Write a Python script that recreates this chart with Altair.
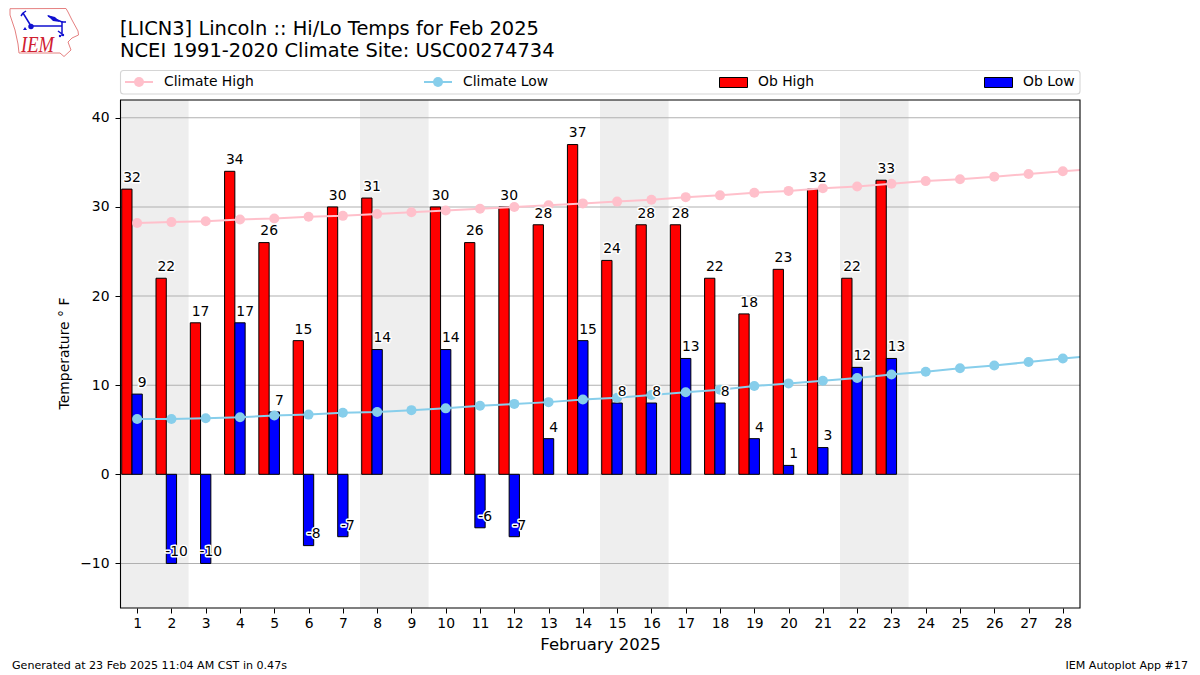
import urllib.parse
import altair as alt
import pandas as pd

days = list(range(1, 29))
ob_days = [d for d in days if d <= 23 and d != 9]
ob_high = [32, 22, 17, 34, 26, 15, 30, 31, 30, 26, 30, 28, 37, 24, 28, 28, 22, 18, 23, 32, 22, 33]
ob_low = [9, -10, -10, 17, 7, -8, -7, 14, 14, -6, -7, 4, 15, 8, 8, 13, 8, 4, 1, 3, 12, 13]
clim_days = days + [29]
clim_high = [28.2, 28.3, 28.4, 28.6, 28.7, 28.9, 29.0, 29.2, 29.4, 29.6, 29.8, 30.0, 30.2, 30.4,
             30.6, 30.8, 31.1, 31.3, 31.6, 31.8, 32.1, 32.3, 32.6, 32.9, 33.1, 33.4, 33.7, 34.0, 34.3]
clim_low = [6.2, 6.2, 6.3, 6.4, 6.6, 6.7, 6.9, 7.0, 7.2, 7.4, 7.7, 7.9, 8.1, 8.4,
            8.6, 8.9, 9.2, 9.5, 9.9, 10.2, 10.5, 10.8, 11.2, 11.5, 11.9, 12.2, 12.6, 13.0, 13.3]
span_start = [0.5, 7.5, 14.5, 21.5]
span_end = [2.5, 9.5, 16.5, 23.5]
grid_values = [-10, 0, 10, 20, 30, 40]

W, H = 960, 508
OX, OY = 120, 100
FONT = "DejaVu Sans"
x_scale = alt.Scale(domain=[0.5, 28.5], nice=False, zero=False)
y_scale = alt.Scale(domain=[-15, 42], nice=False, zero=False)
x_axis = alt.Axis(values=days, grid=False, domain=False, tickColor="black", tickSize=5, tickWidth=1,
                  labelFont=FONT, labelFontSize=13.9, labelColor="black", labelPadding=3,
                  labelOverlap=False, labelFlush=False, format="d",
                  titleFont=FONT, titleFontSize=16.5, titleFontWeight="normal", titleColor="black",
                  titlePadding=7)
y_axis = alt.Axis(values=grid_values, grid=False, domain=False, tickColor="black", tickSize=5, tickWidth=1,
                  labelFont=FONT, labelFontSize=13.9, labelColor="black", labelPadding=6,
                  titleFont=FONT, titleFontSize=13.9, titleFontWeight="normal", titleColor="black",
                  titleX=-56, titleY=253, titleAngle=-90, titleAlign="center", titleBaseline="middle")
X_TITLE = "February 2025"
Y_TITLE = "Temperature ° F"

def X(f):
    return alt.X(f, scale=x_scale, axis=x_axis, title=X_TITLE)
def Y(f):
    return alt.Y(f, scale=y_scale, axis=y_axis, title=Y_TITLE)

logo_svg = """<svg xmlns='http://www.w3.org/2000/svg' width='72' height='52' viewBox='8 8 72 52'>
<path d='M10 8.7 L66 8.5 L68 12 L72 20 L78 31 L78.5 35 L72 38 L68 42 L71 50 L64 56.5 L60 53 L19 53 L18 44 L15 30 L10 15 Z'
 fill='white' stroke='#e58080' stroke-width='1'/>
<g stroke='#1010d0' fill='none' stroke-width='1.5'>
<path d='M31 26 L62 26 M62 21 L62 36 M31 26 L23 13 M23 13 L21 16 M23 13 L26 11 M58 31 L62 34'/>
<path d='M48 16 L62 22 L66 22' />
</g>
<path d='M47 15 L55 17 L60 22 L53 21 Z' fill='#1010d0'/>
<circle cx='31' cy='26.5' r='2.7' fill='#1010d0'/>
<path d='M25 27 L27 30 L23 30 Z' fill='#1010d0'/>
<circle cx='60' cy='36' r='1.2' fill='#1010d0'/><circle cx='63' cy='35' r='1.2' fill='#1010d0'/>
<text x='21' y='52' font-family='Liberation Serif' font-style='italic' font-size='23' fill='#d02030' textLength='33' lengthAdjust='spacingAndGlyphs'>IEM</text>
</svg>"""
logo_url = "data:image/svg+xml," + urllib.parse.quote(logo_svg)

one = pd.DataFrame({"k": [0]})
bar_df = pd.DataFrame({"d": ob_days, "high": ob_high, "low": ob_low, "zero": 0})
bar_df["hx1"] = bar_df.d - 0.45
bar_df["hx2"] = bar_df.d - 0.15
bar_df["lx1"] = bar_df.d - 0.15
bar_df["lx2"] = bar_df.d + 0.15
bar_df["hy"] = bar_df.high + 0.8
bar_df["ly"] = bar_df.low + 0.8
bar_df["ht"] = bar_df.high.astype(str)
bar_df["lt"] = bar_df.low.astype(str)
clim_df = pd.DataFrame({"d": clim_days, "high": clim_high, "low": clim_low})
span_df = pd.DataFrame({"a": span_start, "b": span_end})
grid_df = pd.DataFrame({"v": grid_values})

spans = alt.Chart(span_df).mark_rect(color="#eeeeee").encode(
    x=X("a:Q"), x2="b:Q", y=alt.value(0), y2=alt.value(H))
grid = alt.Chart(grid_df).mark_rule(color="#b0b0b0", strokeWidth=1.1).encode(y=Y("v:Q"))

def bars(x1, x2, val, color):
    return alt.Chart(bar_df).mark_rect(color=color, stroke="black", strokeWidth=1, strokeJoin="miter").encode(
        x=X(f"{x1}:Q"), x2=f"{x2}:Q", y=Y(f"{val}:Q"), y2="zero:Q")
def clim(col, color):
    base = alt.Chart(clim_df).encode(x=X("d:Q"), y=Y(f"{col}:Q"))
    return [base.mark_line(color=color, strokeWidth=2, clip=True),
            base.mark_point(color=color, filled=True, opacity=1, size=100, clip=True)]
def labels(xf, yf, tf):
    common = dict(font=FONT, fontSize=13.9, align="center", baseline="alphabetic")
    enc = dict(x=X(f"{xf}:Q"), y=Y(f"{yf}:Q"), text=f"{tf}:N")
    halo = alt.Chart(bar_df).mark_text(fill="white", stroke="white", strokeWidth=3, strokeJoin="round", **common).encode(**enc)
    top = alt.Chart(bar_df).mark_text(fill="black", **common).encode(**enc)
    return [halo, top]
def note(text, px, py, size=13.9, align="left", baseline="middle"):
    return alt.Chart(pd.DataFrame({"t": [text]})).mark_text(
        font=FONT, fontSize=size, align=align, baseline=baseline, color="black"
    ).encode(x=alt.value(px - OX), y=alt.value(py - OY), text="t:N")
def frame_rect(x1, x2, y1, y2, **kw):
    return alt.Chart(one).mark_rect(**kw).encode(
        x=alt.value(x1 - OX), x2=alt.value(x2 - OX), y=alt.value(y1 - OY), y2=alt.value(y2 - OY))
def legend_line(x1, x2, color):
    ym = -18
    ln = alt.Chart(one).mark_rule(color=color, strokeWidth=2).encode(
        x=alt.value(x1 - OX), x2=alt.value(x2 - OX), y=alt.value(ym))
    pt = alt.Chart(one).mark_point(color=color, filled=True, opacity=1, size=100).encode(
        x=alt.value((x1 + x2) / 2 - OX), y=alt.value(ym))
    return [ln, pt]

frame = frame_rect(120.5, 1080, 100, 608, fillOpacity=0, stroke="black", strokeWidth=1.1)
logo = alt.Chart(one).mark_image(url=logo_url, width=72, height=52, align="left", baseline="top").encode(
    x=alt.value(-112), y=alt.value(-92))
leg_box = frame_rect(120.5, 1080, 70.5, 94, fill="white", stroke="#d5d5d5", strokeWidth=1.1, cornerRadius=3)

layers = [spans, grid,
          bars("hx1", "hx2", "high", "red"), bars("lx1", "lx2", "low", "blue"),
          *clim("high", "#FFC0CB"), *clim("low", "#87CEEB"),
          *labels("hx2", "hy", "ht"), *labels("lx2", "ly", "lt"),
          frame, logo, leg_box,
          *legend_line(125, 153, "#FFC0CB"), note("Climate High", 164, 82),
          *legend_line(424, 452, "#87CEEB"), note("Climate Low", 463, 82),
          frame_rect(719.5, 747.5, 77.5, 87.5, fill="red", stroke="black", strokeWidth=1, strokeJoin="miter"), note("Ob High", 758, 82),
          frame_rect(984.5, 1012.5, 77.5, 87.5, fill="blue", stroke="black", strokeWidth=1, strokeJoin="miter"), note("Ob Low", 1023, 82),
          note("[LICN3] Lincoln :: Hi/Lo Temps for Feb 2025", 120, 29, size=19.45),
          note("NCEI 1991-2020 Climate Site: USC00274734", 120, 51, size=19.45),
          note("Generated at 23 Feb 2025 11:04 AM CST in 0.47s", 12, 666, size=11.1),
          note("IEM Autoplot App #17", 1188, 666, size=11.1, align="right")]

chart = alt.layer(*layers).properties(
    width=W, height=H,
    autosize=alt.AutoSizeParams(type="none"),
    padding={"left": 112, "top": 92, "right": 112, "bottom": 66},
    background="white",
).configure_view(stroke=None)

chart.save("out.html", embed_options={"renderer": "svg", "actions": False})
